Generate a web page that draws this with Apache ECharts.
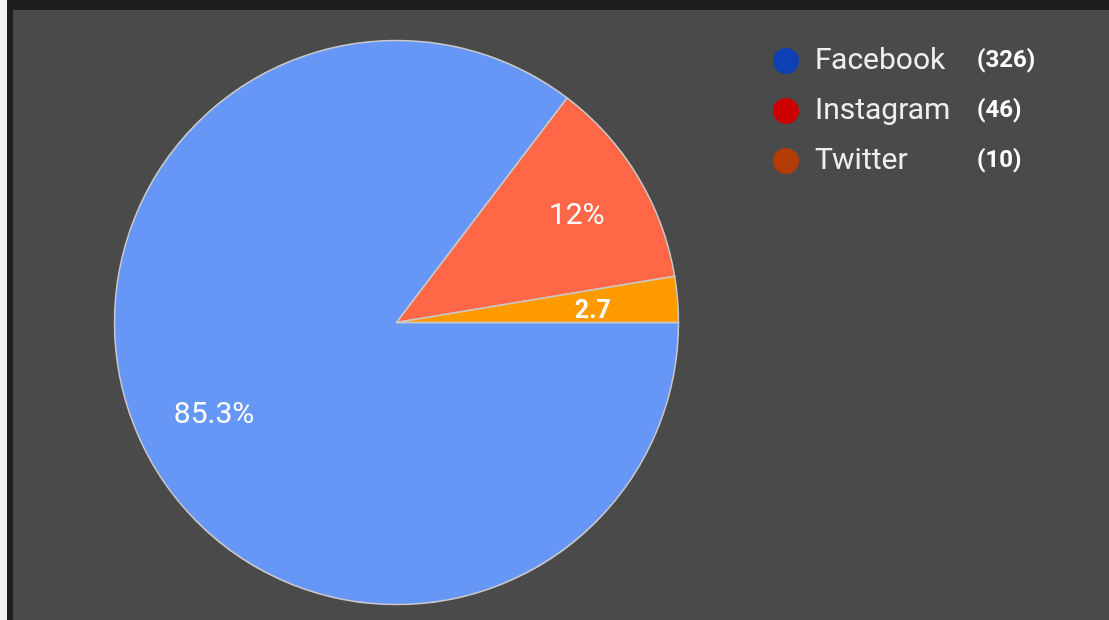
<!DOCTYPE html>
<html>
<head>
<meta charset="utf-8">
<script src="https://cdn.jsdelivr.net/npm/echarts@6/dist/echarts.min.js"></script>
<style>
  html, body { margin: 0; padding: 0; background: #1e1e1e; width: 1109px; height: 620px; overflow: hidden; }
  #strip { position: absolute; left: 0; top: 0; width: 7px; height: 620px; background: #f2f2f2; }
  #main { position: absolute; left: 13px; top: 10px; width: 1096px; height: 610px; }
</style>
</head>
<body>
<div id="strip"></div>
<div id="main"></div>
<script>
// data
var names = ['Facebook', 'Instagram', 'Twitter'];
var counts = [326, 46, 10];
var sliceLabels = ['85.3%', '12%', '2.7'];
var sliceColors = ['#6697f7', '#ff6747', '#ff9b00'];
var legendColors = ['#0c40b4', '#cc0000', '#b23b06'];

var chart = echarts.init(document.getElementById('main'));

var pieData = names.map(function (n, i) {
  return { name: n, value: counts[i], itemStyle: { color: sliceColors[i] } };
});
var labelData = names.map(function (n, i) {
  var small = i === 2;
  return {
    name: n,
    value: counts[i],
    label: {
      formatter: sliceLabels[i],
      fontWeight: small ? 'bold' : 'normal',
      fontSize: small ? 25 : 30,
      offset: small ? [-10, 6] : [3, 1]
    }
  };
});

var option = {
  backgroundColor: '#4a4a4a',
  animation: false,
  legend: {
    orient: 'vertical',
    left: 760,
    top: 36,
    padding: 0,
    icon: 'circle',
    itemWidth: 26,
    itemHeight: 26,
    itemGap: 20,
    selectedMode: false,
    itemStyle: { borderWidth: 0 },
    data: names.map(function (n, i) {
      return { name: n, itemStyle: { color: legendColors[i], borderWidth: 0 } };
    }),
    formatter: function (name) {
      var i = names.indexOf(name);
      return '{n|' + name + '}{c|(' + counts[i] + ')}';
    },
    textStyle: {
      rich: {
        n: { fontFamily: 'Roboto', fontSize: 30, color: '#eeeeee', width: 162, padding: [0, 0, 0, 11], lineHeight: 26 },
        c: { fontFamily: 'Roboto', fontSize: 24, fontWeight: 'bold', color: '#ffffff', lineHeight: 26 }
      }
    }
  },
  series: [
    {
      type: 'pie',
      center: [383.5, 312.5],
      radius: [0, 282],
      startAngle: 0,
      clockwise: true,
      silent: true,
      label: { show: false },
      labelLine: { show: false },
      itemStyle: { borderColor: '#c9c9c9', borderWidth: 1.5 },
      emphasis: { disabled: true },
      data: pieData
    },
    {
      // label-only ring so labels sit further out than ECharts' default inside position
      type: 'pie',
      center: [383.5, 312.5],
      radius: [126, 282],
      startAngle: 0,
      clockwise: true,
      silent: true,
      itemStyle: { color: 'rgba(0,0,0,0)' },
      label: {
        show: true,
        position: 'inside',
        fontFamily: 'Roboto',
        color: '#ffffff'
      },
      labelLine: { show: false },
      emphasis: { disabled: true },
      data: labelData
    }
  ]
};
chart.setOption(option);
</script>
</body>
</html>
